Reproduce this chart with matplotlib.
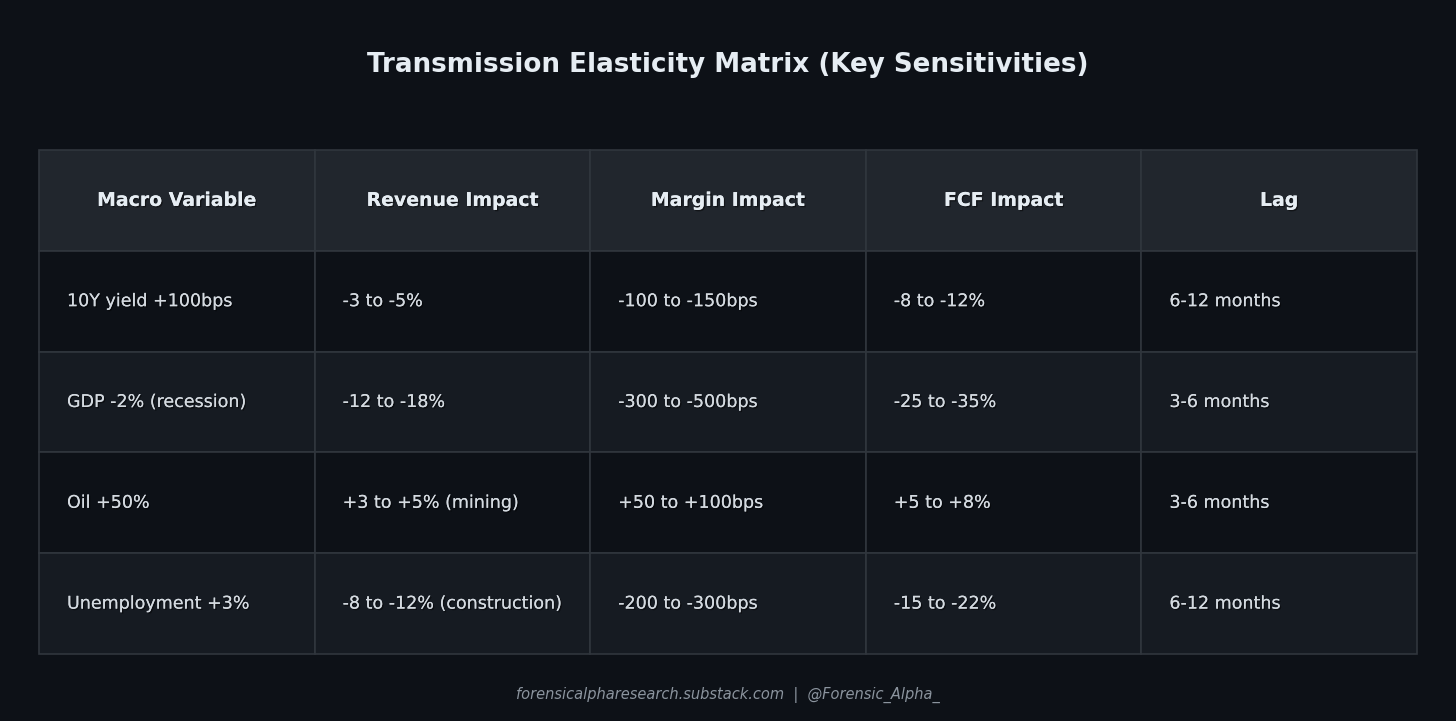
import matplotlib
matplotlib.use("Agg")
import matplotlib.pyplot as plt
from matplotlib.patches import Rectangle
import matplotlib.patheffects as pe

title = "Transmission Elasticity Matrix (Key Sensitivities)"
headers = ["Macro Variable", "Revenue Impact", "Margin Impact", "FCF Impact", "Lag"]
macro_variable = ["10Y yield +100bps", "GDP -2% (recession)", "Oil +50%", "Unemployment +3%"]
revenue_impact = ["-3 to -5%", "-12 to -18%", "+3 to +5% (mining)", "-8 to -12% (construction)"]
margin_impact = ["-100 to -150bps", "-300 to -500bps", "+50 to +100bps", "-200 to -300bps"]
fcf_impact = ["-8 to -12%", "-25 to -35%", "+5 to +8%", "-15 to -22%"]
lag = ["6-12 months", "3-6 months", "3-6 months", "6-12 months"]
footer = "forensicalpharesearch.substack.com  |  @Forensic_Alpha_"

columns = [macro_variable, revenue_impact, margin_impact, fcf_impact, lag]

BG = "#0d1117"
HEADER_BG = "#21262d"
ROW_BG = ["#0d1117", "#161b22"]
BORDER = "#30363d"
TEXT = "#e6edf3"
BODY = "#d4dae0"
FOOT = "#8b949e"

W, H = 1456, 721
fig = plt.figure(figsize=(W / 100, H / 100), dpi=100, facecolor=BG)
ax = fig.add_axes([0, 0, 1, 1])
ax.set_xlim(0, W)
ax.set_ylim(H, 0)
ax.axis("off")
ax.set_facecolor(BG)

x0, x1 = 39, 1417
y0, y1 = 150, 654
ncol = len(headers)
nrow = len(macro_variable) + 1
cw = (x1 - x0) / ncol
rh = (y1 - y0) / nrow

shadow = [pe.withSimplePatchShadow(offset=(1, -1), shadow_rgbFace="black", alpha=0.45), pe.Normal()]

for r in range(nrow):
    for c in range(ncol):
        face = HEADER_BG if r == 0 else ROW_BG[(r - 1) % 2]
        ax.add_patch(Rectangle((x0 + c * cw, y0 + r * rh), cw, rh,
                               facecolor=face, edgecolor=BORDER, linewidth=1.2))
        if r == 0:
            ax.text(x0 + (c + 0.5) * cw, y0 + 0.5 * rh, headers[c],
                    ha="center", va="center", fontsize=13.6, fontweight="bold",
                    color=TEXT, path_effects=shadow)
        else:
            ax.text(x0 + c * cw + 28, y0 + (r + 0.5) * rh, columns[c][r - 1],
                    ha="left", va="center", fontsize=12.6,
                    color=BODY, path_effects=shadow)

ax.text(W / 2, 65, title, ha="center", va="center", fontsize=18.85,
        fontweight="bold", color=TEXT)
ax.text(W / 2, 695, footer, ha="center", va="center", fontsize=10.5,
        style="italic", color=FOOT)

fig.savefig("out.png", dpi=100, facecolor=BG)
